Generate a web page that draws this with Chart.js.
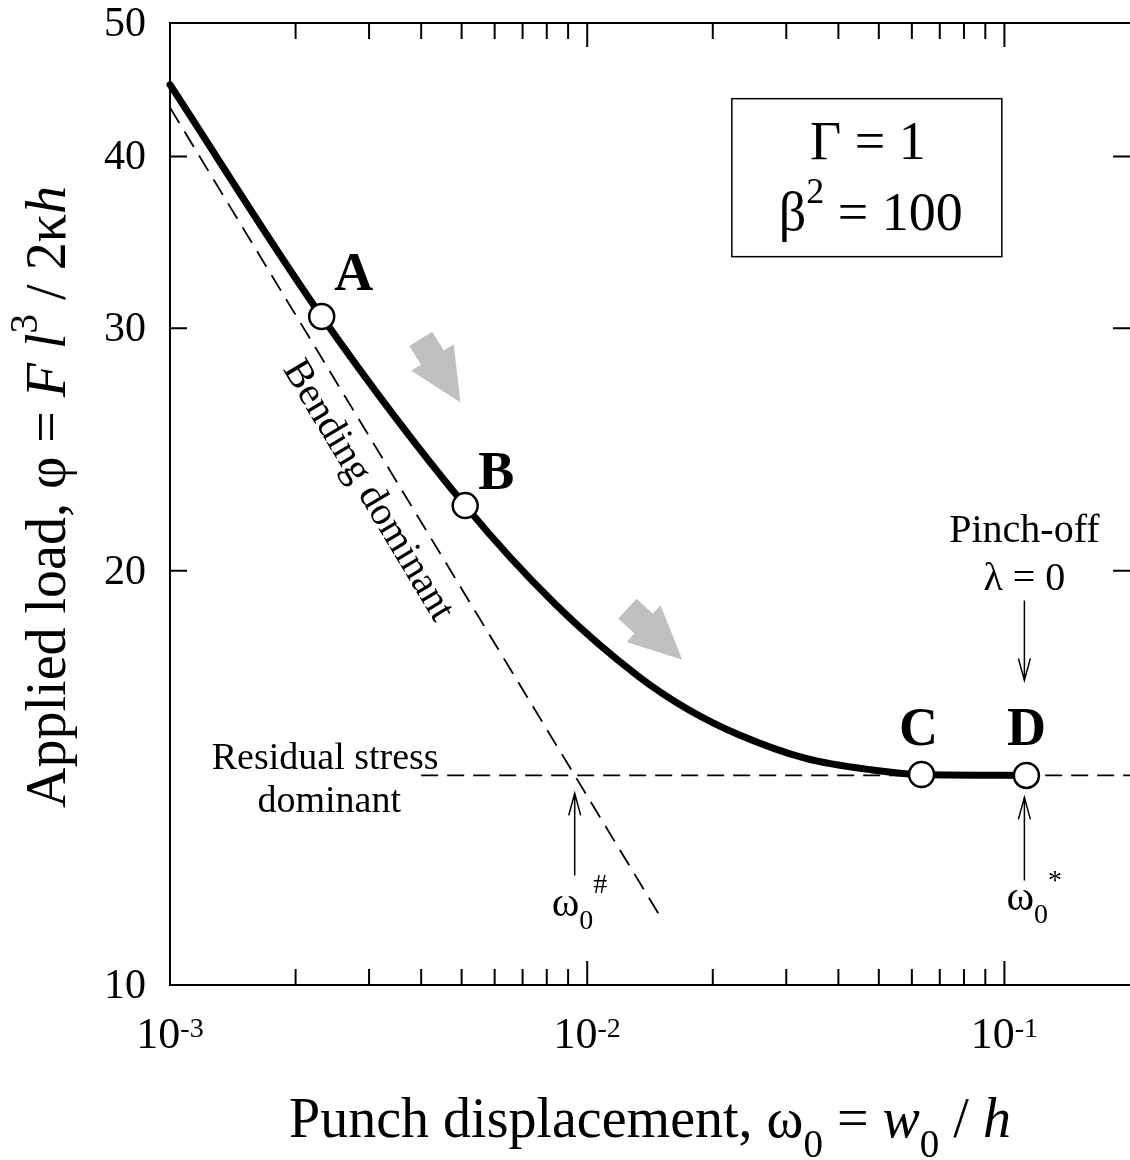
<!DOCTYPE html>
<html lang="en">
<head>
<meta charset="UTF-8">
<title>Applied load vs punch displacement</title>
<script src="https://cdn.jsdelivr.net/npm/chart.js@4.4.1/dist/chart.umd.min.js"></script>
<style>
  html, body { margin: 0; padding: 0; background: #fff; }
  #chart { display: block; }
</style>
</head>
<body>
<canvas id="chart" width="1130" height="1160"></canvas>
<script>
// load - displacement curve (log-log)
const curveX = [0.001, 0.00231, 0.0051, 0.0084, 0.0133, 0.0175, 0.0231, 0.0334, 0.0482, 0.0633, 0.1129];
const curveY = [45.1, 30.6, 22.3, 18.9, 16.75, 15.85, 15.2, 14.61, 14.33, 14.22, 14.2];

// marked states on the curve
const stateNames = ['A', 'B', 'C', 'D'];
const stateX = [0.00231, 0.0051, 0.0633, 0.1129];
const stateY = [30.6, 22.3, 14.22, 14.2];

// asymptotes
const bendX = [0.001, 0.015];
const bendY = [43.4, 11.2];
const residualX = [0.004, 0.2];
const residualY = [14.2, 14.2];

// ticks
const xMajor = [0.001, 0.01, 0.1];
const xMinor = [0.002, 0.003, 0.004, 0.005, 0.006, 0.007, 0.008, 0.009,
                0.02, 0.03, 0.04, 0.05, 0.06, 0.07, 0.08, 0.09];
const yTicks = [10, 20, 30, 40, 50];

const FAM = '"Liberation Serif", "Times New Roman", Times, serif';

const pts = (xs, ys) => xs.map((x, i) => ({ x, y: ys[i] }));

// draws a run of text pieces (italic / bold / super / subscript) on one baseline
function rich(ctx, parts, x, y, size, align) {
  const font = p => (p.i ? 'italic ' : '') + (p.b ? 'bold ' : '') + Math.round(size * (p.s || 1)) + 'px ' + FAM;
  let w = 0;
  for (const p of parts) { ctx.font = font(p); w += ctx.measureText(p.t).width; }
  let cx = align === 'center' ? x - w / 2 : align === 'right' ? x - w : x;
  ctx.textAlign = 'left';
  ctx.textBaseline = 'alphabetic';
  for (const p of parts) {
    ctx.font = font(p);
    ctx.fillText(p.t, cx, y + (p.dy || 0) * size);
    cx += ctx.measureText(p.t).width;
  }
}
const n = t => ({ t });
const it = t => ({ t, i: true });
const sup = (t, dy = -0.5, s = 0.66) => ({ t, s, dy });
const sub = (t, dy = 0.3, s = 0.66) => ({ t, s, dy });

function thinArrow(ctx, x, y0, y1) {
  // vertical arrow with an open head at y1
  const d = Math.sign(y1 - y0);
  ctx.beginPath();
  ctx.moveTo(x, y0); ctx.lineTo(x, y1);
  ctx.moveTo(x - 6, y1 - d * 22); ctx.lineTo(x, y1); ctx.lineTo(x + 6, y1 - d * 22);
  ctx.stroke();
}

function blockArrow(ctx, x, y, angle) {
  // grey block arrow, tip at (x, y)
  const shape = [[0, 0], [-53, -25], [-53, -13.5], [-75, -13.5], [-75, 13.5], [-53, 13.5], [-53, 25]];
  ctx.save();
  ctx.translate(x, y);
  ctx.rotate(angle * Math.PI / 180);
  ctx.beginPath();
  shape.forEach(([px, py], i) => i ? ctx.lineTo(px, py) : ctx.moveTo(px, py));
  ctx.closePath();
  ctx.fillStyle = '#c0c0c0';
  ctx.fill();
  ctx.restore();
}

const decor = {
  id: 'decor',
  beforeDatasetsDraw(chart) {
    const { ctx, scales: { x: xs, y: ys } } = chart;
    blockArrow(ctx, xs.getPixelForValue(0.00497), ys.getPixelForValue(26.5), 58);
    blockArrow(ctx, xs.getPixelForValue(0.0169), ys.getPixelForValue(17.23), 43);
  },
  afterDraw(chart) {
    const { ctx, chartArea: a, scales: { x: xs, y: ys } } = chart;
    ctx.save();
    ctx.strokeStyle = '#000';
    ctx.fillStyle = '#000';
    ctx.lineWidth = 2;

    // frame (right side falls on the canvas edge)
    ctx.beginPath();
    ctx.moveTo(a.right, a.top); ctx.lineTo(a.left, a.top);
    ctx.lineTo(a.left, a.bottom); ctx.lineTo(a.right, a.bottom);
    ctx.stroke();

    // inward ticks
    ctx.beginPath();
    xMajor.concat(xMinor).forEach(v => {
      const px = xs.getPixelForValue(v);
      const len = xMajor.includes(v) ? 24 : 16;
      ctx.moveTo(px, a.bottom); ctx.lineTo(px, a.bottom - len);
      ctx.moveTo(px, a.top); ctx.lineTo(px, a.top + len);
    });
    yTicks.forEach(v => {
      const py = ys.getPixelForValue(v);
      ctx.moveTo(a.left, py); ctx.lineTo(a.left + 17, py);
      ctx.moveTo(a.right, py); ctx.lineTo(a.right - 17, py);
    });
    ctx.stroke();

    // tick labels
    ctx.font = '42px ' + FAM;
    ctx.textAlign = 'right';
    ctx.textBaseline = 'middle';
    yTicks.forEach(v => ctx.fillText(String(v), a.left - 24, ys.getPixelForValue(v) + 2));
    xMajor.forEach(v => {
      const e = Math.round(Math.log10(v));
      rich(ctx, [n('10'), sup(String(e), -0.25, 0.64)], xs.getPixelForValue(v), a.bottom + 63, 44, 'center');
    });

    // axis titles
    rich(ctx, [n('Punch displacement, \u03c9'), sub('0', 0.36, 0.7), n(' = '), it('w'), sub('0', 0.36, 0.7), n(' / '), it('h')],
      (a.left + a.right) / 2, a.bottom + 152, 56, 'center');
    ctx.save();
    ctx.translate(65, 497);
    ctx.rotate(-Math.PI / 2);
    rich(ctx, [n('Applied load, \u03c6 = '), it('F'), n(' '), it('l'), sup('3', -0.5, 0.7), n(' / 2\u03ba'), it('h')], 0, 0, 56, 'center');
    ctx.restore();

    // parameter box
    const bx = xs.getPixelForValue(0.0468), by = ys.getPixelForValue(38.6);
    ctx.lineWidth = 1.5;
    ctx.strokeRect(bx - 135, by - 79, 270, 158);
    rich(ctx, [n('\u0393 = 1')], bx + 1, by - 19, 54, 'center');
    rich(ctx, [n('\u03b2'), sup('2', -0.5, 0.66), n(' = 100')], bx + 4, by + 52, 54, 'center');

    // state letters
    const off = [[32, -26], [31, -17], [-3, -30], [0, -30]];
    stateNames.forEach((s, i) => {
      rich(ctx, [{ t: s, b: true }], xs.getPixelForValue(stateX[i]) + off[i][0], ys.getPixelForValue(stateY[i]) + off[i][1], 54, 'center');
    });

    // regime labels
    const rx = xs.getPixelForValue(residualX[0]), ry = ys.getPixelForValue(residualY[0]);
    rich(ctx, [n('Residual stress')], rx - 96, ry - 6, 38, 'center');
    rich(ctx, [n('dominant')], rx - 92, ry + 37, 38, 'center');

    ctx.save();
    ctx.translate(xs.getPixelForValue(0.00298), ys.getPixelForValue(22.86));
    ctx.rotate(59 * Math.PI / 180);
    ctx.font = '40px ' + FAM;
    ctx.textAlign = 'center';
    ctx.textBaseline = 'middle';
    ctx.fillText('Bending dominant', 0, 0);
    ctx.restore();

    // crossover of the two asymptotes
    const t = Math.log(residualY[0] / bendY[0]) / Math.log(bendY[1] / bendY[0]);
    const xCross = Math.pow(10, Math.log10(bendX[0]) + t * Math.log10(bendX[1] / bendX[0]));
    const cx = xs.getPixelForValue(xCross);
    ctx.lineWidth = 1.5;
    thinArrow(ctx, cx, ry + 100, ry + 18);
    rich(ctx, [n('\u03c9'), sub('0', 0.3, 0.66), sup('#', -0.55, 0.66)], cx - 23, ry + 141, 42, 'left');

    // pinch-off at D
    const dx = xs.getPixelForValue(stateX[3]), dy = ys.getPixelForValue(stateY[3]);
    rich(ctx, [n('Pinch-off')], dx - 2, dy - 233, 40, 'center');
    rich(ctx, [n('\u03bb = 0')], dx - 2, dy - 185, 40, 'center');
    thinArrow(ctx, dx - 2, dy - 175, dy - 95);
    thinArrow(ctx, dx - 2, dy + 105, dy + 22);
    rich(ctx, [n('\u03c9'), sub('0', 0.3, 0.66), sup('*', -0.5, 0.66)], dx - 20, dy + 135, 42, 'left');

    ctx.restore();
  }
};

new Chart(document.getElementById('chart'), {
  type: 'line',
  data: {
    datasets: [
      {
        label: 'states',
        data: pts(stateX, stateY),
        showLine: false,
        pointRadius: 12.5,
        pointBackgroundColor: '#fff',
        pointBorderColor: '#000',
        pointBorderWidth: 2.5,
        clip: false,
        order: 0
      },
      {
        label: 'load',
        data: pts(curveX, curveY),
        borderColor: '#000',
        borderWidth: 7,
        borderCapStyle: 'round',
        borderJoinStyle: 'round',
        cubicInterpolationMode: 'monotone',
        pointRadius: 0,
        clip: false,
        order: 1
      },
      {
        label: 'bending',
        data: pts(bendX, bendY),
        borderColor: '#000',
        borderWidth: 1.8,
        borderDash: [18, 10],
        pointRadius: 0,
        order: 2
      },
      {
        label: 'residual',
        data: pts(residualX, residualY),
        borderColor: '#000',
        borderWidth: 1.8,
        borderDash: [17, 9],
        pointRadius: 0,
        order: 3
      }
    ]
  },
  options: {
    responsive: false,
    animation: false,
    events: [],
    layout: { autoPadding: false, padding: { left: 170, top: 23, right: 0, bottom: 175 } },
    scales: {
      x: { type: 'logarithmic', min: 0.001, max: 0.2, display: false },
      y: { type: 'logarithmic', min: 10, max: 50, display: false }
    },
    plugins: {
      legend: { display: false },
      tooltip: { enabled: false }
    }
  },
  plugins: [decor]
});
</script>
</body>
</html>
